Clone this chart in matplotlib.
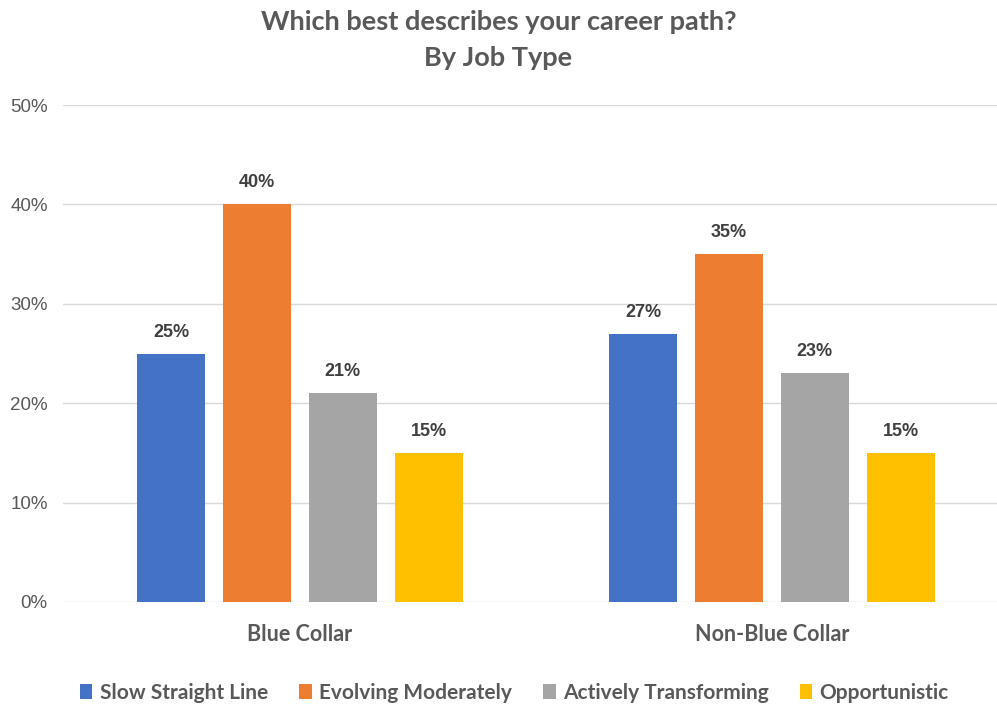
import matplotlib.pyplot as plt
import numpy as np
from matplotlib.patches import Patch

categories = ['Blue Collar', 'Non-Blue Collar']
series = ['Slow Straight Line', 'Evolving Moderately', 'Actively Transforming', 'Opportunistic']
values = [
    [25, 27],   # Slow Straight Line
    [40, 35],   # Evolving Moderately
    [21, 23],   # Actively Transforming
    [15, 15],   # Opportunistic
]
colors = ['#4472C4', '#ED7D31', '#A5A5A5', '#FFC000']
y_ticks = [0, 10, 20, 30, 40, 50]

TEXT = '#595959'
TITLE_FONT = ['Lato', 'Open Sans', 'DejaVu Sans']
NUM_FONT = ['Liberation Sans', 'DejaVu Sans']

fig = plt.figure(figsize=(9.97, 7.08), dpi=100)
# axes spans the gridline area: x 63..997 px, y 105..602 px
ax = fig.add_axes([63 / 997, 1 - 602 / 708, 934 / 997, 497 / 708])

x = np.arange(len(categories))
width = 0.144
step = 0.182
for i, (name, vals, col) in enumerate(zip(series, values, colors)):
    pos = x + (i - 1.5) * step
    bars = ax.bar(pos, vals, width=width, color=col, label=name, zorder=2)
    for b, v in zip(bars, vals):
        ax.text(b.get_x() + b.get_width() / 2, v + 1.3, f'{v}%',
                ha='center', va='bottom', fontsize=13, fontweight='bold',
                color='#404040', family=NUM_FONT)

ax.set_xlim(-0.502, 1.477)
ax.set_ylim(0, 50)
ax.set_yticks(y_ticks)
ax.set_yticklabels([f'{t}%' for t in y_ticks], fontsize=13.5, color=TEXT, family=NUM_FONT)
ax.tick_params(axis='y', length=0, pad=11)
ax.set_xticks(x)
ax.set_xticklabels(categories, fontsize=15.5, fontweight='bold', color=TEXT, family=TITLE_FONT)
ax.tick_params(axis='x', length=0, pad=16)
ax.grid(axis='y', color='#D9D9D9', linewidth=1.0, zorder=0)
for s in ax.spines.values():
    s.set_visible(False)

fig.text(0.5, 1 - 22 / 708, 'Which best describes your career path?',
         ha='center', va='center', fontsize=19.5, fontweight='bold',
         color=TEXT, family=TITLE_FONT)
fig.text(0.5, 1 - 58 / 708, 'By Job Type',
         ha='center', va='center', fontsize=19.5, fontweight='bold',
         color=TEXT, family=TITLE_FONT)

handles = [Patch(facecolor=c, label=n) for c, n in zip(colors, series)]
leg = fig.legend(handles=handles, loc='center', bbox_to_anchor=(0.516, 1 - 693 / 708),
                 ncol=4, frameon=False, handlelength=0.6, handleheight=0.7,
                 handletextpad=0.35, columnspacing=1.5,
                 prop={'family': TITLE_FONT, 'weight': 'bold', 'size': 15})
for t in leg.get_texts():
    t.set_color(TEXT)

fig.savefig('out.png', dpi=100)
